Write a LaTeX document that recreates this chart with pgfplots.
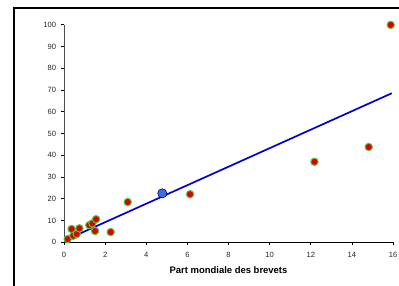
\documentclass[border=0pt]{standalone}
\usepackage{fontspec}
\setmainfont{Liberation Sans}
\usepackage{pgfplots}
\pgfplotsset{compat=1.18}
\definecolor{mred}{RGB}{220,0,0}
\definecolor{mgreen}{RGB}{80,200,60}
\definecolor{lblue}{RGB}{0,0,210}
\definecolor{pblue}{RGB}{60,110,235}
\begin{document}
\begin{tikzpicture}[x=1bp,y=1bp]
\useasboundingbox (0,0) rectangle (399,286);
\draw[line width=1.2bp] (14,-2) -- (14,278) -- (401,278);
\begin{axis}[
  at={(64bp,43.7bp)}, anchor=origin,
  scale only axis, width=329bp, height=217.6bp,
  xmin=0, xmax=16, ymin=0, ymax=100,
  clip=false,
  axis x line*=bottom, axis y line*=left,
  x axis line style={black, line width=0.8bp},
  y axis line style={black!70, line width=0.8bp},
  xtick={0,2,...,16}, ytick={0,10,...,100},
  tick align=outside, major tick length=3bp,
  tick style={black, line width=0.6bp},
  tick label style={font=\fontsize{7.6}{9}\selectfont, text=black!85},
  /pgf/number format/assume math mode=true,
  xticklabel style={yshift=-3.5bp},
  yticklabel style={xshift=-1.5bp},
  xlabel={\bfseries Part mondiale des brevets},
  xlabel style={font=\fontsize{9.5}{11}\selectfont, yshift=-2bp},
]
\addplot[lblue, line width=1.7bp] coordinates {(0.18,1.5) (15.94,68.5)};
\addplot[only marks, mark=*, mark size=3.7bp, mark options={fill=mred, draw=mgreen, line width=1bp}] coordinates {
(0.18,1.5) (0.37,6.1) (0.45,3.0) (0.62,3.8) (0.75,6.4) (1.23,7.9) (1.38,8.7)
(1.56,10.6) (1.51,5.2) (2.27,4.7) (3.1,18.5) (6.13,22.1) (12.18,37.0) (14.82,43.8) (15.89,99.9)
};
\addplot[only marks, mark=*, mark size=4.6bp, mark options={fill=pblue, draw=lblue!70!black, line width=0.6bp}] coordinates {(4.78,22.5)};
\end{axis}
\end{tikzpicture}
\end{document}
